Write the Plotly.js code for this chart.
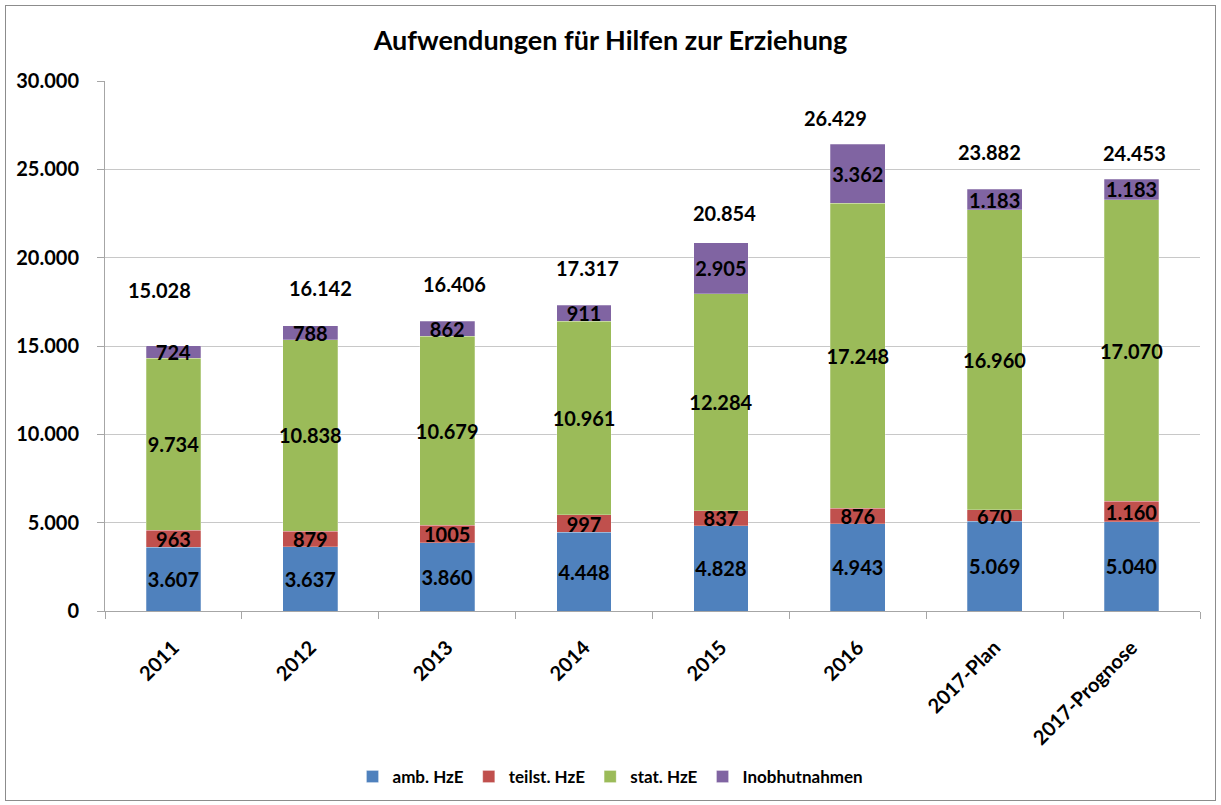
<!DOCTYPE html>
<html>
<head>
<meta charset="utf-8">
<script src="https://cdn.plot.ly/plotly-3.0.1.min.js"></script>
<style>
  html, body { margin: 0; padding: 0; background: #ffffff; }
  #frame { position: absolute; left: 5px; top: 5px; width: 1209px; height: 794px; border: 1px solid #8c8c8c; }
  #chart { width: 1209px; height: 794px; }
</style>
</head>
<body>
<div id="frame"><div id="chart"></div></div>
<script>
const categories = ["2011", "2012", "2013", "2014", "2015", "2016", "2017-Plan", "2017-Prognose"];
const ambHzE = [3607, 3637, 3860, 4448, 4828, 4943, 5069, 5040];
const teilstHzE = [963, 879, 1005, 997, 837, 876, 670, 1160];
const statHzE = [9734, 10838, 10679, 10961, 12284, 17248, 16960, 17070];
const inobhut = [724, 788, 862, 911, 2905, 3362, 1183, 1183];
const totals = [15028, 16142, 16406, 17317, 20854, 26429, 23882, 24453];

const ambLabels = ["3.607", "3.637", "3.860", "4.448", "4.828", "4.943", "5.069", "5.040"];
const teilstLabels = ["963", "879", "1005", "997", "837", "876", "670", "1.160"];
const statLabels = ["9.734", "10.838", "10.679", "10.961", "12.284", "17.248", "16.960", "17.070"];
const inobhutLabels = ["724", "788", "862", "911", "2.905", "3.362", "1.183", "1.183"];
const totalLabels = ["15.028", "16.142", "16.406", "17.317", "20.854", "26.429", "23.882", "24.453"];

// label offsets from the bar tops (pixels), as placed in the reference
const totalShiftY = [56, 38, 37, 37, 30, 26, 37, 26];
const totalShiftX = [-14, 10, 7, 3, 4, -22, -5, 3];

const FONT = "Lato, 'Open Sans', sans-serif";
const labelFont = { family: FONT, size: 20, color: "#000000", weight: 700 };

function series(name, vals, labels, color) {
  return {
    type: "bar",
    name: name,
    x: categories,
    y: vals,
    text: labels,
    textposition: "inside",
    insidetextanchor: "middle",
    textangle: 0,
    constraintext: "none",
    insidetextfont: labelFont,
    hoverinfo: "x+y+name",
    marker: { color: color, line: { color: "rgba(255,255,255,0.5)", width: 0.5 } }
  };
}

const data = [
  series("amb. HzE", ambHzE, ambLabels, "#4F81BD"),
  series("teilst. HzE", teilstHzE, teilstLabels, "#C0504D"),
  series("stat. HzE", statHzE, statLabels, "#9BBB59"),
  series("Inobhutnahmen", inobhut, inobhutLabels, "#8064A2")
];

const annotations = categories.map((c, i) => ({
  x: i, y: totals[i], xref: "x", yref: "y",
  text: totalLabels[i], showarrow: false,
  yshift: totalShiftY[i], xshift: totalShiftX[i],
  font: labelFont
}));

const layout = {
  width: 1209, height: 794,
  margin: { l: 99, r: 15, t: 75, b: 189 },
  paper_bgcolor: "#ffffff",
  plot_bgcolor: "#ffffff",
  barmode: "stack",
  bargap: 0.6,
  separators: ",.",
  title: {
    text: "Aufwendungen für Hilfen zur Erziehung",
    font: { family: FONT, size: 27, color: "#000000", weight: 700 },
    x: 0.5, xanchor: "center", xref: "container",
    y: 0.957, yanchor: "middle", yref: "container"
  },
  font: { family: FONT, color: "#000000" },
  xaxis: {
    type: "category",
    categoryorder: "array",
    categoryarray: categories,
    range: [-0.5, categories.length - 0.5],
    automargin: false,
    tickangle: -45,
    ticklabelstandoff: 16,
    tickfont: { family: FONT, size: 20, color: "#000000", weight: 700 },
    showline: true, linecolor: "#a6a6a6", linewidth: 1,
    ticks: "outside", tickson: "boundaries", ticklen: 7, tickcolor: "#a6a6a6",
    showgrid: false, zeroline: false
  },
  yaxis: {
    range: [0, 30000],
    dtick: 5000,
    tickformat: ",d",
    automargin: false,
    ticklabelstandoff: 14,
    tickfont: { family: FONT, size: 20, color: "#000000", weight: 700 },
    showline: true, linecolor: "#a6a6a6", linewidth: 1,
    ticks: "outside", ticklen: 7, tickcolor: "#a6a6a6",
    showgrid: true, gridcolor: "#c8c8c8", gridwidth: 1,
    zeroline: false
  },
  legend: {
    orientation: "h",
    x: 0.5, xanchor: "center", xref: "container",
    y: 0.029, yanchor: "middle", yref: "container",
    font: { family: FONT, size: 17, color: "#000000", weight: 700 },
    traceorder: "normal",
    itemwidth: 20
  },
  annotations: annotations,
  showlegend: true
};

Plotly.newPlot("chart", data, layout, { displayModeBar: false, staticPlot: true });
</script>
</body>
</html>
